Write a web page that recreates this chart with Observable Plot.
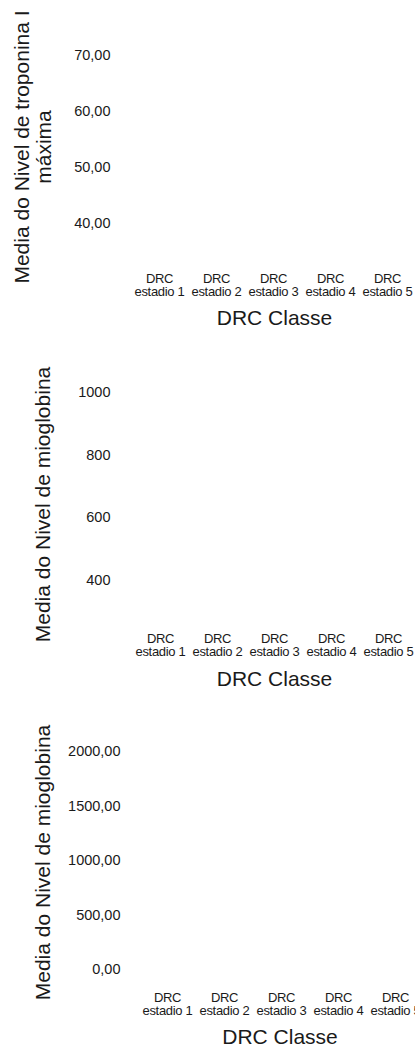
<!DOCTYPE html>
<html><head><meta charset="utf-8">
<script src="https://cdn.jsdelivr.net/npm/d3@7"></script>
<script src="https://cdn.jsdelivr.net/npm/@observablehq/plot@0.6"></script>
<style>
body{margin:0;background:#fff;}
#c{width:415px;}
#c svg{display:block;}
#c svg [aria-label="x-axis tick label"] text{letter-spacing:-0.3px;}
</style></head><body><div id="c"></div>
<script>
// Categories (x axis)
const categories = ["DRC estadio 1", "DRC estadio 2", "DRC estadio 3", "DRC estadio 4", "DRC estadio 5"];
// Tick values for each panel's y axis
const troponinaTicks = [40, 50, 60, 70];
const mioglobinaTicks = [400, 600, 800, 1000];
const mioglobina2Ticks = [0, 500, 1000, 1500, 2000];
// Titles
const xTitle = "DRC Classe";
const yTitles = [
  "Media do Nivel de troponina I\nmáxima",
  "Media do Nivel de mioglobina",
  "Media do Nivel de mioglobina"
];

const comma2 = d => d3.format(".2f")(d).replace(".", ",");
const plain = d => d3.format("d")(d);
const ink = "#1a1a1a";
const font = "Liberation Sans, Arial, sans-serif";

function panel({height, marginLeft, marginTop, marginBottom, yDomain, ticks, fmt, xRange, yTitle, yDx, yDy, xDx, xDy}) {
  return Plot.plot({
    width: 415,
    height,
    marginLeft,
    marginRight: 0,
    marginTop,
    marginBottom,
    style: {fontFamily: font, color: ink, background: "white"},
    x: {type: "point", domain: categories, range: xRange, padding: 0},
    y: {domain: yDomain},
    marks: [
      Plot.axisY({ticks, tickFormat: fmt, tickSize: 0, tickPadding: 10, fontSize: 14.5, label: null}),
      Plot.axisX({ticks: categories, tickFormat: d => d.replace(" ", "\n"), tickSize: 0, tickPadding: 8.5, fontSize: 13, label: null}),
      Plot.text([yTitle], {text: d => d, frameAnchor: "left", textAnchor: "middle", rotate: -90, fontSize: 21, lineHeight: 1.05, dx: yDx, dy: yDy, fill: ink}),
      Plot.text([xTitle], {text: d => d, frameAnchor: "bottom", textAnchor: "middle", fontSize: 21, dx: xDx, dy: xDy, fill: ink})
    ]
  });
}

const c = document.getElementById("c");
c.append(panel({height: 340, marginLeft: 120, marginTop: 20, marginBottom: 75,
  yDomain: [32.5, 76.25], ticks: troponinaTicks, fmt: comma2, xRange: [158, 388],
  yTitle: yTitles[0], yDx: -88, yDy: 4, xDx: 6.5, xDy: 59.8}));
c.append(panel({height: 360, marginLeft: 120, marginTop: 20, marginBottom: 75,
  yDomain: [256, 1102], ticks: mioglobinaTicks, fmt: plain, xRange: [159, 388],
  yTitle: yTitles[1], yDx: -78, yDy: 11.5, xDx: 6.5, xDy: 60.5}));
c.append(panel({height: 352, marginLeft: 130, marginTop: 20, marginBottom: 68,
  yDomain: [-137.6, 2284], ticks: mioglobina2Ticks, fmt: comma2, xRange: [166, 395],
  yTitle: yTitles[2], yDx: -88, yDy: 10, xDx: 7, xDy: 59.3}));
</script></body></html>
